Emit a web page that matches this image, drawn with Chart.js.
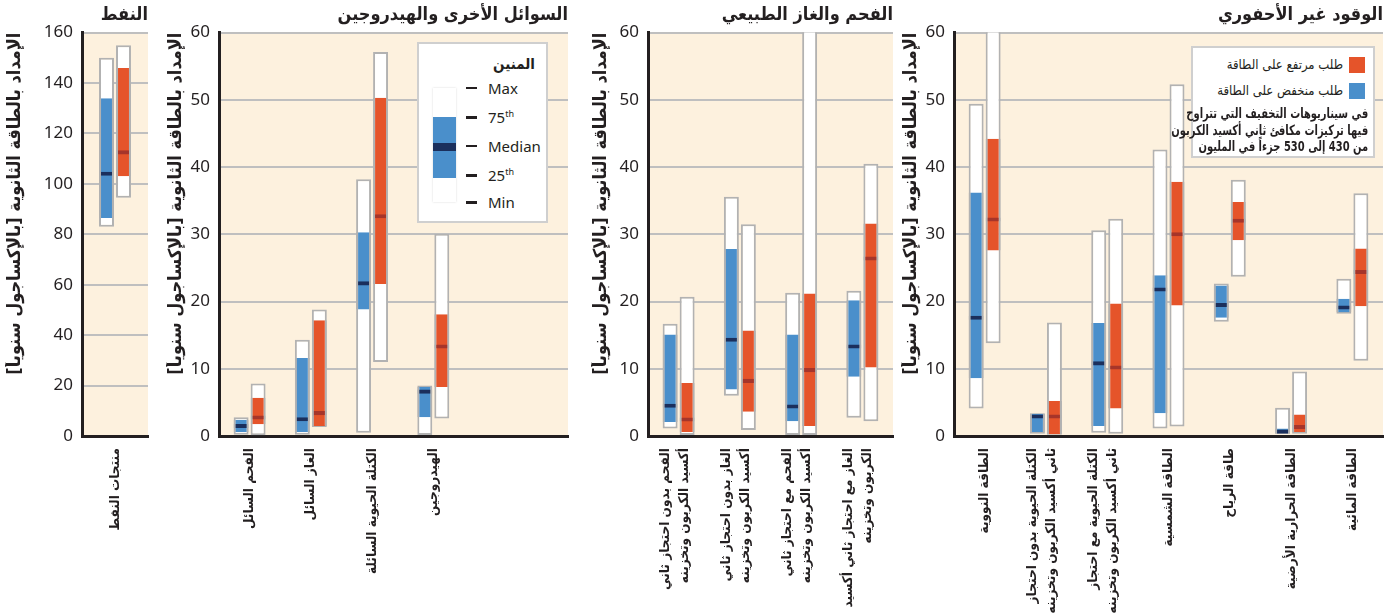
<!DOCTYPE html>
<html lang="ar">
<head>
<meta charset="utf-8">
<script src="https://cdn.jsdelivr.net/npm/chart.js@4.4.1/dist/chart.umd.min.js"></script>
<style>
  body { margin: 0; background: #fff; }
  #wrap { position: relative; width: 1390px; height: 615px; overflow: hidden; }
  canvas { position: absolute; top: 0; direction: rtl; }
  .key { position: absolute; background: #fff; border: 2px solid #cfcfcf; box-sizing: border-box; }
  .key div { position: absolute; }
  .ar { font-family: "DejaVu Sans Condensed", "DejaVu Sans", sans-serif; direction: rtl; white-space: nowrap; color: #231f20; }
  .lat { font-family: "Noto Sans", "Open Sans", sans-serif; font-size: 15px; line-height: 20px; color: #231f20; white-space: nowrap; }
  .lat sup { font-size: 9px; vertical-align: 6px; line-height: 0; }
  .dash { width: 11px; height: 3px; background: #231f20; }
  .note { transform: scaleX(0.79); transform-origin: right top; }
</style>
</head>
<body>
<div id="wrap">
  <canvas id="cOil" width="145" height="615" style="left:5px"></canvas>
  <canvas id="cLiq" width="404" height="615" style="left:166px"></canvas>
  <canvas id="cFos" width="304" height="615" style="left:591px"></canvas>
  <canvas id="cNon" width="484" height="615" style="left:901px"></canvas>

  <!-- box-plot key -->
  <div class="key" style="left:417px;top:42px;width:131px;height:181px;">
    <div class="ar" style="right:11px;top:11px;font-size:15px;font-weight:bold;line-height:18px;">المنين</div>
    <div style="left:14px;top:44px;width:23px;height:114px;background:#fff;box-shadow:0 0 2px #d8d8d8;"></div>
    <div style="left:14px;top:73px;width:23px;height:61px;background:#4a8fcb;"></div>
    <div style="left:14px;top:99px;width:23px;height:8px;background:#1b2f5c;"></div>
    <div class="dash" style="left:47px;top:43px;height:2px;"></div>
    <div class="dash" style="left:47px;top:72px;"></div>
    <div class="dash" style="left:47px;top:101px;height:2px;"></div>
    <div class="dash" style="left:47px;top:130px;"></div>
    <div class="dash" style="left:47px;top:157px;"></div>
    <div class="lat" style="left:69px;top:34px;">Max</div>
    <div class="lat" style="left:69px;top:63px;">75<sup>th</sup></div>
    <div class="lat" style="left:69px;top:92px;">Median</div>
    <div class="lat" style="left:69px;top:121px;">25<sup>th</sup></div>
    <div class="lat" style="left:69px;top:148px;">Min</div>
  </div>

  <!-- scenario key -->
  <div class="key" style="left:1191px;top:46px;width:184px;height:112px;">
    <div style="left:156px;top:9px;width:16px;height:16px;background:#e5542a;"></div>
    <div class="ar" style="right:30px;top:8px;font-size:13px;line-height:18px;">طلب مرتفع على الطاقة</div>
    <div style="left:156px;top:35px;width:16px;height:16px;background:#4a8fcb;"></div>
    <div class="ar" style="right:30px;top:34px;font-size:13px;line-height:18px;">طلب منخفض على الطاقة</div>
    <div class="ar note" style="right:5px;top:57px;font-size:14px;line-height:16.5px;font-weight:bold;text-align:right;">في سيناريوهات التخفيف التي تتراوح<br>فيها تركيزات مكافئ ثاني أكسيد الكربون<br>من 430 إلى 530 جزءاً في المليون</div>
  </div>
</div>

<script>
// Secondary energy supply (EJ/yr), each row = [min, 25th, median, 75th, max]
const oilCats = [['منتجات النفط']];
const oilLow  = [[83, 86.5, 104, 134, 150]];
const oilHigh = [[94.5, 103, 112.5, 146, 155]];

const liqCats = [['الفحم السائل'], ['الغاز السائل'], ['الكتلة الحيوية السائلة'], ['الهيدروجين']];
const liqLow  = [[0.2, 0.6, 1.5, 2.4, 2.8], [0.2, 0.6, 2.5, 11.6, 14.3], [0.5, 18.8, 22.7, 30.3, 38.2], [0, 2.8, 6.6, 7.3, 7.5]];
const liqHigh = [[0.1, 1.75, 2.75, 5.7, 7.8], [1.35, 1.5, 3.4, 17.2, 18.8], [11.0, 22.6, 32.7, 50.3, 57.1], [2.6, 7.3, 13.3, 18.1, 30.1]];

const fosCats = [
  ['الفحم بدون احتجاز ثاني', 'أكسيد الكربون وتخزينه'],
  ['الغاز بدون احتجاز ثاني', 'أكسيد الكربون وتخزينه'],
  ['الفحم مع احتجاز ثاني', 'أكسيد الكربون وتخزينه'],
  ['الغاز مع احتجاز ثاني أكسيد', 'الكربون وتخزينه']
];
const fosLow  = [[1.1, 2.1, 4.5, 15.1, 16.7], [6.0, 6.9, 14.3, 27.8, 35.6], [0, 2.2, 4.4, 15.1, 21.3], [2.7, 8.8, 13.3, 20.2, 21.6]];
const fosHigh = [[0, 0.6, 2.45, 7.9, 20.7], [0.9, 3.6, 8.2, 15.7, 31.5], [0, 1.5, 9.8, 21.2, 75], [2.2, 10.2, 26.4, 31.6, 40.5]];

const nonCats = [
  ['الطاقة النووية'],
  ['الكتلة الحيوية بدون احتجاز', 'ثاني أكسيد الكربون وتخزينه'],
  ['الكتلة الحيوية مع احتجاز', 'ثاني أكسيد الكربون وتخزينه'],
  ['الطاقة الشمسية'],
  ['طاقة الرياح'],
  ['الطاقة الحرارية الأرضية'],
  ['الطاقة المائية']
];
const nonLow  = [[4.1, 8.6, 17.6, 36.2, 49.4], [0.35, 0.6, 2.9, 3.3, 3.4], [0.5, 1.5, 10.8, 16.8, 30.6], [1.1, 3.4, 21.8, 23.9, 42.6], [17.0, 17.6, 19.5, 22.4, 22.7], [0.35, 0.4, 0.65, 1.1, 4.2], [18.2, 18.4, 19.1, 20.4, 23.4]];
const nonHigh = [[13.8, 27.6, 32.2, 44.2, 75], [0.2, 0.25, 2.9, 5.2, 16.9], [0.35, 4.1, 10.2, 19.7, 32.3], [1.4, 19.4, 30.0, 37.8, 52.3], [23.7, 29.1, 32.0, 34.8, 38.1], [0.35, 0.6, 1.35, 3.2, 9.6], [11.2, 19.3, 24.4, 27.9, 36.1]];

const yTitle = 'الإمداد بالطاقة الثانوية [بالإكساجول سنوياً]';

const INK = '#231f20', CREAM = '#fdf1de', GRID = '#bfbfbf', EDGE = '#b2b2b2';
const BLUE = '#4a8fcb', ORANGE = '#e5542a', NAVY = '#1b2f5c', RUST = '#a6352a';
const AR_FONT = '"DejaVu Sans Condensed", "DejaVu Sans", sans-serif';

// cream plot background under the grid
const plotBg = {
  id: 'plotBg',
  beforeDraw(chart) {
    const { ctx, chartArea: a } = chart;
    ctx.save();
    ctx.fillStyle = CREAM;
    ctx.fillRect(a.left, a.top, a.right - a.left, a.bottom - a.top);
    ctx.restore();
  }
};

// vertical category names under each box pair
const catLabels = {
  id: 'catLabels',
  afterDraw(chart, args, o) {
    const { ctx, chartArea } = chart;
    const xs = chart.scales.x;
    ctx.save();
    ctx.fillStyle = INK;
    ctx.font = 'bold 13.5px ' + AR_FONT;
    ctx.direction = 'rtl';
    ctx.textAlign = 'right';
    ctx.textBaseline = 'middle';
    o.cats.forEach((lines, i) => {
      ctx.save();
      ctx.translate(xs.getPixelForValue(i) - (lines.length > 1 ? 4 : 0), chartArea.bottom + 12);
      ctx.rotate(-Math.PI / 2);
      lines.forEach((t, k) => ctx.fillText(t, 0, (k - (lines.length - 1) / 2) * o.lh));
      ctx.restore();
    });
    ctx.restore();
  }
};

function panel(id, cfg) {
  const { title, cats, low, high, yMax, yStep, xMax, yWidth, catPct } = cfg;
  const medHalf = yMax * 0.005;
  const pts = (rows, f) => rows.map((r, i) => ({ x: i, y: f(r) }));
  const sides = { left: 2, right: 2, top: 0, bottom: 0 };
  const base = { categoryPercentage: catPct, barPercentage: 0.88, clip: 0, borderSkipped: false, borderColor: EDGE };
  const datasets = [
    { ...base, label: 'low-range', stack: 'low', order: 3, data: pts(low, r => [r[0], r[4]]), backgroundColor: '#fff', borderWidth: 2 },
    { ...base, label: 'high-range', stack: 'high', order: 3, data: pts(high, r => [r[0], r[4]]), backgroundColor: '#fff', borderWidth: 2 },
    { ...base, label: 'low-iqr', stack: 'low', order: 2, data: pts(low, r => [r[1], r[3]]), backgroundColor: BLUE, borderWidth: sides },
    { ...base, label: 'high-iqr', stack: 'high', order: 2, data: pts(high, r => [r[1], r[3]]), backgroundColor: ORANGE, borderWidth: sides },
    { ...base, label: 'low-median', stack: 'low', order: 1, data: pts(low, r => [r[2] - medHalf, r[2] + medHalf]), backgroundColor: NAVY, borderWidth: sides },
    { ...base, label: 'high-median', stack: 'high', order: 1, data: pts(high, r => [r[2] - medHalf, r[2] + medHalf]), backgroundColor: RUST, borderWidth: sides }
  ];
  return new Chart(document.getElementById(id), {
    type: 'bar',
    data: { datasets },
    plugins: [plotBg, catLabels],
    options: {
      responsive: false,
      animation: false,
      devicePixelRatio: 1,
      layout: { padding: { left: 0, right: 2, top: 0, bottom: 0 } },
      plugins: {
        legend: { display: false },
        tooltip: { enabled: false },
        title: {
          display: true, text: title, align: 'end', color: INK,
          font: { family: AR_FONT, size: 18, weight: 'bold' },
          padding: { top: 5, bottom: 6 }
        },
        catLabels: { cats, lh: 19 }
      },
      scales: {
        x: {
          type: 'linear', min: -0.5, max: xMax, offset: false,
          grid: { display: false },
          border: { display: true, color: INK, width: 3 },
          ticks: { display: false },
          afterBuildTicks: s => { s.ticks = cats.map((c, i) => ({ value: i })); },
          afterFit: s => { s.height = 179; }
        },
        y: {
          min: 0, max: yMax, stacked: false,
          grid: { color: GRID, lineWidth: 2, drawTicks: false },
          border: { display: true, color: INK, width: 3 },
          ticks: { stepSize: yStep, color: INK, padding: 9, font: { family: '"Noto Sans", "Open Sans", sans-serif', size: 17 } },
          title: {
            display: true, text: yTitle, align: 'end', color: INK, padding: 0,
            font: { family: AR_FONT, size: 18, weight: 'bold' }
          },
          afterFit: s => { s.width = yWidth; }
        }
      }
    }
  });
}

panel('cOil', { title: 'النفط', cats: oilCats, low: oilLow, high: oilHigh, yMax: 160, yStep: 20, xMax: 0.5, yWidth: 77, catPct: 0.515 });
panel('cLiq', { title: 'السوائل الأخرى والهيدروجين', cats: liqCats, low: liqLow, high: liqHigh, yMax: 60, yStep: 10, xMax: 5.2, yWidth: 53, catPct: 0.555 });
panel('cFos', { title: 'الفحم والغاز الطبيعي', cats: fosCats, low: fosLow, high: fosHigh, yMax: 60, yStep: 10, xMax: 3.5, yWidth: 57, catPct: 0.555 });
panel('cNon', { title: 'الوقود غير الأحفوري', cats: nonCats, low: nonLow, high: nonHigh, yMax: 60, yStep: 10, xMax: 6.5, yWidth: 53, catPct: 0.555 });
</script>
</body>
</html>
